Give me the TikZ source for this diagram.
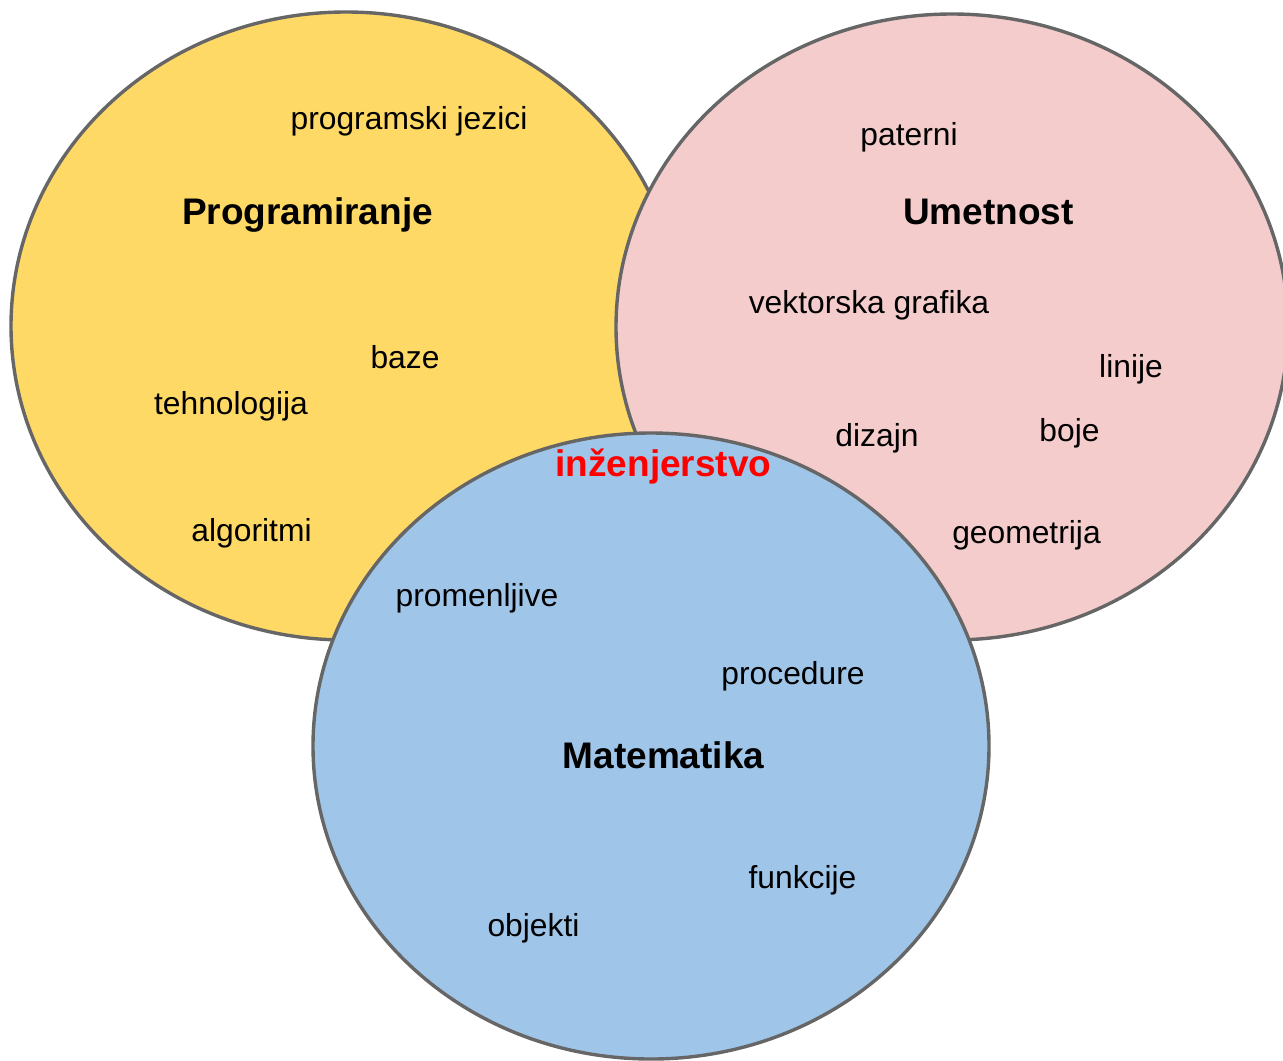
\documentclass[tikz,border=0pt]{standalone}
\usepackage{fontspec}
\setmainfont{Liberation Sans}
\definecolor{setyellow}{HTML}{FFD966}
\definecolor{setpink}{HTML}{F4CCCC}
\definecolor{setblue}{HTML}{9FC5E8}
\definecolor{setrim}{HTML}{666666}
\tikzset{
  setshape/.style={draw=setrim, line width=1.7pt},
  word/.style={font=\fontsize{15.9}{19}\selectfont, anchor=base, inner sep=0},
  settitle/.style={font=\fontsize{18.5}{22}\selectfont\bfseries, anchor=base, inner sep=0},
}

\begin{document}
\begin{tikzpicture}[x=0.5pt, y=-0.5pt]
  \useasboundingbox (0,0) rectangle (1283,1060);

  % the three sets, back to front
  \draw[setshape, fill=setyellow] (346,326) ellipse [x radius=335, y radius=314];
  \draw[setshape, fill=setpink]   (952,327) ellipse [x radius=336, y radius=313];
  \draw[setshape, fill=setblue]   (651,746) ellipse [x radius=338, y radius=313];

  % set titles
  \node[settitle] (prog) at (307.5,224) {Programiranje};
  \node[settitle] (umet) at (988.5,224) {Umetnost};
  \node[settitle] (mat)  at (663.5,768) {Matematika};
  \node[settitle, text=red] (inz) at (663.5,476) {inženjerstvo};

  % words inside the sets
  \foreach \px/\py/\t [count=\k] in {
      409/129/programski jezici, 405/368/baze, 231/414/tehnologija,
      251.5/541/algoritmi, 477/606/promenljive,
      909/145/paterni, 869/313/vektorska grafika, 1131/377/linije,
      877/446/dizajn, 1069.5/441/boje, 1026.5/543/geometrija,
      793/684/procedure, 802.5/888/funkcije, 533.5/936/objekti} {
    \node[word] (w\k) at (\px,\py) {\t};
  }
\end{tikzpicture}
\end{document}
